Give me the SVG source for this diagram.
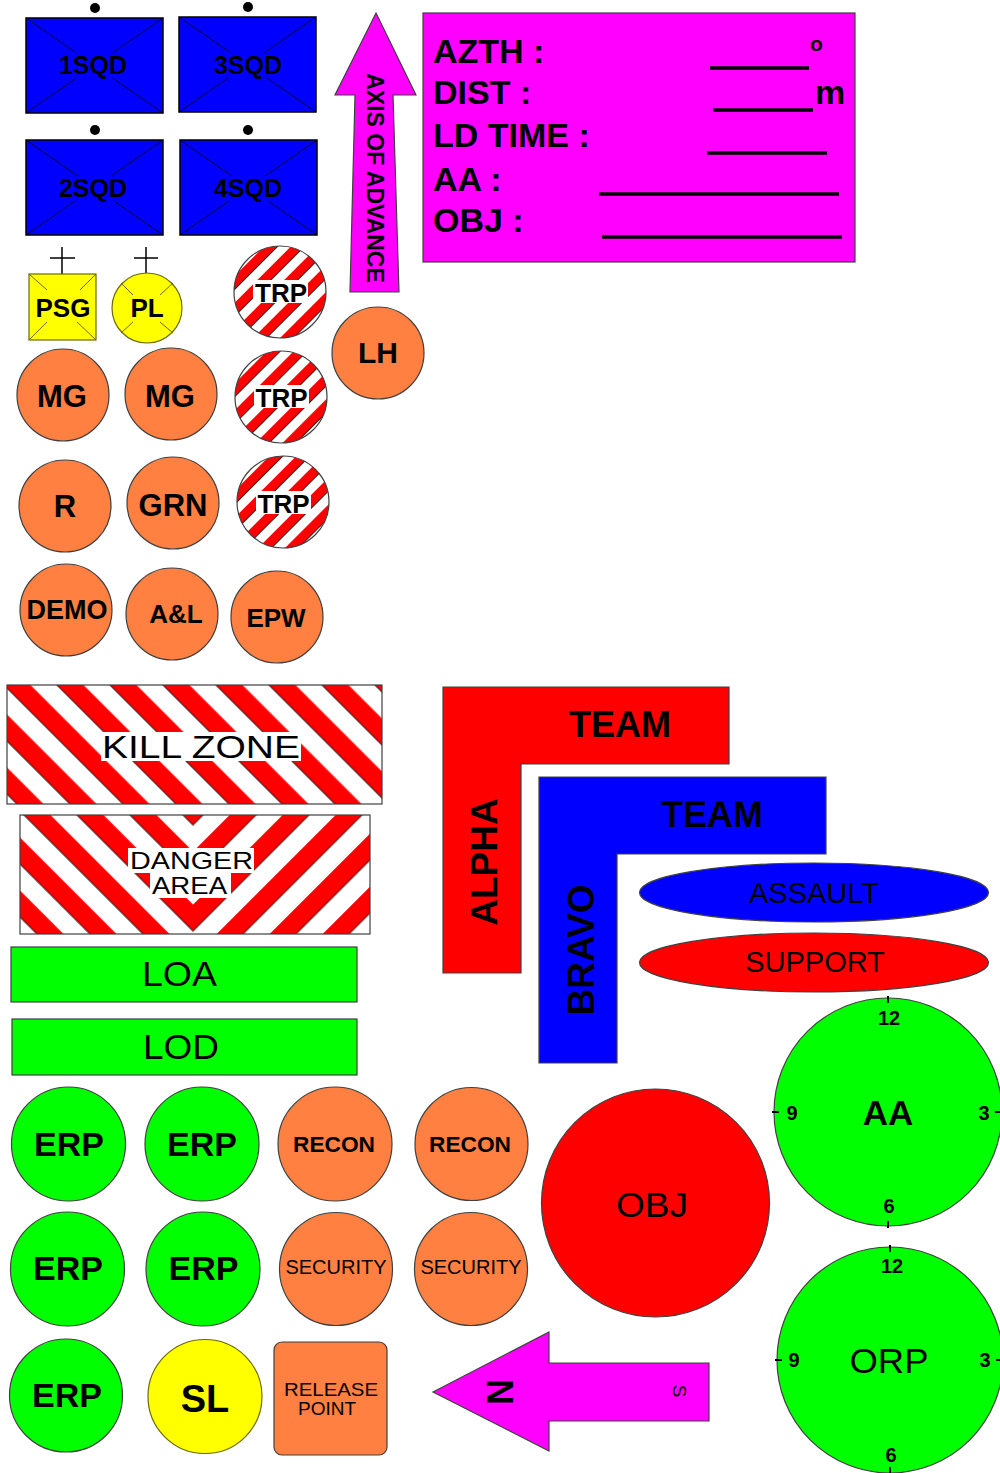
<svg xmlns="http://www.w3.org/2000/svg" width="1000" height="1473" viewBox="0 0 1000 1473">
<defs>
<style>
text { font-family: "Liberation Sans", Arial, Helvetica, sans-serif; fill: #000; }
.b { font-weight: bold; }
.c { text-anchor: middle; }
.sq { fill: #0000FF; stroke: #000; stroke-width: 1.5; }
.x { stroke: #000; stroke-width: 0.8; }
.dot { fill: #000; }
.or { fill: #FF8040; stroke: #404040; stroke-width: 1.2; }
.gr { fill: #00FF00; stroke: #404040; stroke-width: 1.2; }
.ye { fill: #FFFF00; stroke: #6b6b00; stroke-width: 1.2; }
.mg { fill: #FF00FF; stroke: #404040; stroke-width: 1.2; }
.rd { fill: #FF0000; stroke: #404040; stroke-width: 1.2; }
.bl { fill: #0000FF; stroke: #404040; stroke-width: 1.2; }
.ul { stroke: #000; stroke-width: 3.5; }
.tk { stroke: #000; stroke-width: 2; }
.cr { stroke: #000; stroke-width: 1.5; }
.yx { stroke: #6b6b00; stroke-width: 1; }
.wb { fill: #fff; }
.edge { stroke: #404040; stroke-width: 1.2; fill: none; }
.se { stroke: #000; stroke-width: 0.8; }
</style>
<pattern id="pKZ" patternUnits="userSpaceOnUse" width="37.48" height="400" patternTransform="rotate(-45)">
<rect width="37.48" height="400" fill="#fff"/>
<rect x="5.66" width="18.74" height="400" fill="#FF0000"/>
<line class="se" x1="5.66" y1="0" x2="5.66" y2="400"/>
</pattern>
<pattern id="pDL" patternUnits="userSpaceOnUse" width="37.48" height="400" patternTransform="rotate(-45)">
<rect width="37.48" height="400" fill="#fff"/>
<rect x="2.83" width="18.74" height="400" fill="#FF0000"/>
<line class="se" x1="2.83" y1="0" x2="2.83" y2="400"/>
</pattern>
<pattern id="pDR" patternUnits="userSpaceOnUse" x="26.52" width="37.48" height="400" patternTransform="rotate(45)">
<rect width="37.48" height="400" fill="#fff"/>
<rect x="0" width="18.74" height="400" fill="#FF0000"/>
<line class="se" x1="18.74" y1="0" x2="18.74" y2="400"/>
</pattern>
<pattern id="pTRP" patternUnits="userSpaceOnUse" width="19" height="300" patternTransform="rotate(45)">
<rect width="19" height="300" fill="#fff"/>
<rect x="0" width="9.5" height="300" fill="#FF0000"/>
<line class="se" x1="9.5" y1="0" x2="9.5" y2="300"/>
</pattern>
</defs>
<rect width="1000" height="1473" fill="#fff"/>

<g id="sqd1">
<circle class="dot" cx="95" cy="8" r="5"/>
<rect class="sq" x="26" y="18" width="137" height="95"/>
<line class="x" x1="26" y1="18" x2="76.5" y2="53"/><line class="x" x1="112.5" y1="78" x2="163" y2="113"/>
<line class="x" x1="163" y1="18" x2="112.5" y2="53"/><line class="x" x1="76.5" y1="78" x2="26" y2="113"/>
<text class="b c" x="93" y="74" font-size="25">1SQD</text>
</g>
<g id="sqd3">
<circle class="dot" cx="248" cy="7" r="5"/>
<rect class="sq" x="179" y="17" width="137" height="95"/>
<line class="x" x1="179" y1="17" x2="230.9" y2="53"/><line class="x" x1="267" y1="78" x2="316" y2="112"/>
<line class="x" x1="316" y1="17" x2="264.1" y2="53"/><line class="x" x1="228" y1="78" x2="179" y2="112"/>
<text class="b c" x="248" y="74" font-size="25">3SQD</text>
</g>
<g id="sqd2">
<circle class="dot" cx="95" cy="130" r="5"/>
<rect class="sq" x="26" y="140" width="137" height="95"/>
<line class="x" x1="26" y1="140" x2="77.9" y2="176"/><line class="x" x1="114" y1="201" x2="163" y2="235"/>
<line class="x" x1="163" y1="140" x2="111.1" y2="176"/><line class="x" x1="75" y1="201" x2="26" y2="235"/>
<text class="b c" x="93" y="197" font-size="25">2SQD</text>
</g>
<g id="sqd4">
<circle class="dot" cx="248" cy="130" r="5"/>
<rect class="sq" x="180" y="140" width="137" height="95"/>
<line class="x" x1="180" y1="140" x2="231.9" y2="176"/><line class="x" x1="268" y1="201" x2="317" y2="235"/>
<line class="x" x1="317" y1="140" x2="265.1" y2="176"/><line class="x" x1="229" y1="201" x2="180" y2="235"/>
<text class="b c" x="248" y="197" font-size="25">4SQD</text>
</g>

<g id="axis">
<polygon class="mg" points="376,13 416,95 393,95 399,292 350,292 355,95 335,95"/>
<text class="b c" font-size="23" transform="translate(367,178) rotate(90)">AXIS OF ADVANCE</text>
</g>

<g id="infobox">
<rect class="mg" x="423" y="13" width="432" height="249"/>
<text class="b" x="433" y="63" font-size="34">AZTH :</text>
<text class="b" x="433" y="104" font-size="34">DIST :</text>
<text class="b" x="433" y="147" font-size="34">LD TIME :</text>
<text class="b" x="433" y="191" font-size="34">AA :</text>
<text class="b" x="433" y="232" font-size="34">OBJ :</text>
<line class="ul" x1="710" y1="68" x2="809" y2="68"/>
<text class="b" x="810" y="51" font-size="21">o</text>
<line class="ul" x1="713" y1="110" x2="813" y2="110"/>
<text class="b" x="815" y="104" font-size="34">m</text>
<line class="ul" x1="707" y1="153" x2="827" y2="153"/>
<line class="ul" x1="599" y1="194" x2="839" y2="194"/>
<line class="ul" x1="602" y1="237" x2="842" y2="237"/>
</g>

<g id="psg">
<line class="cr" x1="62" y1="247" x2="62" y2="274"/><line class="cr" x1="50" y1="258" x2="75" y2="258"/>
<rect class="ye" x="29" y="274" width="67" height="66"/>
<line class="yx" x1="29" y1="274" x2="47" y2="290"/><line class="yx" x1="96" y1="274" x2="80" y2="290"/>
<line class="yx" x1="77" y1="322" x2="96" y2="340"/><line class="yx" x1="47" y1="322" x2="29" y2="340"/>
<text class="b c" x="63" y="317" font-size="26">PSG</text>
</g>
<g id="pl">
<line class="cr" x1="146" y1="247" x2="146" y2="274"/><line class="cr" x1="134" y1="258" x2="158" y2="258"/>
<circle class="ye" cx="147" cy="308" r="35"/>
<line class="yx" x1="121" y1="283" x2="133" y2="295"/><line class="yx" x1="160" y1="295" x2="173" y2="283"/>
<line class="yx" x1="121" y1="333" x2="133" y2="322"/><line class="yx" x1="160" y1="322" x2="173" y2="333"/>
<text class="b c" x="147" y="317" font-size="26">PL</text>
</g>

<g id="trp1">
<circle cx="280" cy="292" r="46" fill="url(#pTRP)" stroke="#404040" stroke-width="1.2"/>
<rect class="wb" x="253" y="280" width="55" height="23"/>
<text class="b c" x="281" y="302" font-size="26">TRP</text>
</g>
<g id="trp2">
<circle cx="281" cy="397" r="46" fill="url(#pTRP)" stroke="#404040" stroke-width="1.2"/>
<rect class="wb" x="254" y="385" width="55" height="23"/>
<text class="b c" x="281.5" y="407" font-size="26">TRP</text>
</g>
<g id="trp3">
<circle cx="283" cy="502" r="46" fill="url(#pTRP)" stroke="#404040" stroke-width="1.2"/>
<rect class="wb" x="256" y="491" width="55" height="23"/>
<text class="b c" x="283.5" y="513" font-size="26">TRP</text>
</g>

<g id="lh"><circle class="or" cx="378" cy="353" r="46"/><text class="b c" x="378" y="363" font-size="30">LH</text></g>
<g id="mg1"><circle class="or" cx="63" cy="395" r="46"/><text class="b c" x="62" y="407" font-size="31">MG</text></g>
<g id="mg2"><circle class="or" cx="171" cy="394" r="46"/><text class="b c" x="170" y="407" font-size="31">MG</text></g>
<g id="r"><circle class="or" cx="65" cy="506" r="46"/><text class="b c" x="65" y="517" font-size="31">R</text></g>
<g id="grn"><circle class="or" cx="173" cy="503" r="46"/><text class="b c" x="173" y="516" font-size="31">GRN</text></g>
<g id="demo"><circle class="or" cx="66" cy="610" r="46"/><text class="b c" x="67" y="619" font-size="27">DEMO</text></g>
<g id="al"><circle class="or" cx="172" cy="614" r="46"/><text class="b c" x="176" y="623" font-size="26">A&amp;L</text></g>
<g id="epw"><circle class="or" cx="277" cy="617" r="46"/><text class="b c" x="276" y="627" font-size="26">EPW</text></g>

<g id="killzone">
<rect x="7" y="685" width="375" height="119" fill="url(#pKZ)"/>
<rect class="edge" x="7" y="685" width="375" height="119"/>
<rect class="wb" x="101" y="732" width="200" height="29"/>
<text x="201" y="758" font-size="32" text-anchor="middle" textLength="198" lengthAdjust="spacingAndGlyphs">KILL ZONE</text>
</g>

<g id="danger">
<rect x="20" y="815" width="173" height="119" fill="url(#pDL)"/>
<rect x="193" y="815" width="177" height="119" fill="url(#pDR)"/>
<rect class="edge" x="20" y="815" width="350" height="119"/>
<rect class="wb" x="128" y="848" width="126" height="25"/>
<rect class="wb" x="150" y="873" width="81" height="25"/>
<text x="191.5" y="869" font-size="24.5" text-anchor="middle" textLength="123" lengthAdjust="spacingAndGlyphs">DANGER</text>
<text x="189.5" y="894" font-size="24.5" text-anchor="middle" textLength="75" lengthAdjust="spacingAndGlyphs">AREA</text>
</g>

<g id="loa"><rect class="gr" x="11" y="947" width="346" height="55"/><text x="179.5" y="986" font-size="35" text-anchor="middle" textLength="75" lengthAdjust="spacingAndGlyphs">LOA</text></g>
<g id="lod"><rect class="gr" x="12" y="1019" width="345" height="56"/><text x="181" y="1059" font-size="35" text-anchor="middle" textLength="76" lengthAdjust="spacingAndGlyphs">LOD</text></g>

<g id="alpha">
<polygon class="rd" points="443,687 729,687 729,764 521,764 521,973 443,973"/>
<text class="b c" x="620" y="737" font-size="36">TEAM</text>
<text class="b c" font-size="37" transform="translate(497,862) rotate(-90)">ALPHA</text>
</g>
<g id="bravo">
<polygon class="bl" points="539,777 826,777 826,854 617,854 617,1063 539,1063"/>
<text class="b c" x="712" y="827" font-size="36">TEAM</text>
<text class="b c" font-size="37" transform="translate(594,950) rotate(-90)">BRAVO</text>
</g>

<g id="assault"><ellipse class="bl" cx="814" cy="892.5" rx="174.5" ry="29.5"/><text class="c" x="814" y="903" font-size="29">ASSAULT</text></g>
<g id="support"><ellipse class="rd" cx="814" cy="962.5" rx="174.5" ry="29.5"/><text class="c" x="815" y="972" font-size="29">SUPPORT</text></g>

<g id="aa">
<circle class="gr" cx="888" cy="1112" r="114"/>
<line class="tk" x1="888" y1="996" x2="888" y2="1003"/>
<line class="tk" x1="888" y1="1221" x2="888" y2="1228"/>
<line class="tk" x1="772" y1="1112" x2="779" y2="1112"/>
<line class="tk" x1="995" y1="1112" x2="1002" y2="1112"/>
<text class="b c" x="889" y="1025" font-size="20">12</text>
<text class="b c" x="792" y="1120" font-size="20">9</text>
<text class="b c" x="984" y="1120" font-size="20">3</text>
<text class="b c" x="889" y="1213" font-size="20">6</text>
<text class="b c" x="888" y="1125" font-size="35">AA</text>
</g>
<g id="orp">
<circle class="gr" cx="890" cy="1360" r="113"/>
<line class="tk" x1="890" y1="1245" x2="890" y2="1252"/>
<line class="tk" x1="890" y1="1467" x2="890" y2="1474"/>
<line class="tk" x1="775" y1="1360" x2="782" y2="1360"/>
<line class="tk" x1="996" y1="1360" x2="1003" y2="1360"/>
<text class="b c" x="892" y="1273" font-size="20">12</text>
<text class="b c" x="794" y="1367" font-size="20">9</text>
<text class="b c" x="985" y="1367" font-size="20">3</text>
<text class="b c" x="891" y="1462" font-size="20">6</text>
<text class="c" x="889" y="1373" font-size="35" textLength="79" lengthAdjust="spacingAndGlyphs">ORP</text>
</g>

<g id="obj"><circle class="rd" cx="655.5" cy="1203" r="114"/><text class="c" x="652" y="1217" font-size="35" textLength="72" lengthAdjust="spacingAndGlyphs">OBJ</text></g>

<g id="erp1"><circle class="gr" cx="68.5" cy="1144" r="57"/><text class="b c" x="69" y="1156" font-size="34">ERP</text></g>
<g id="erp2"><circle class="gr" cx="202" cy="1144" r="57"/><text class="b c" x="202" y="1156" font-size="34">ERP</text></g>
<g id="recon1"><circle class="or" cx="335" cy="1144" r="57"/><text class="b c" x="334" y="1152" font-size="22" textLength="82" lengthAdjust="spacingAndGlyphs">RECON</text></g>
<g id="recon2"><circle class="or" cx="471.5" cy="1144" r="56.5"/><text class="b c" x="470" y="1152" font-size="22" textLength="82" lengthAdjust="spacingAndGlyphs">RECON</text></g>
<g id="erp3"><circle class="gr" cx="67.5" cy="1269" r="57"/><text class="b c" x="68" y="1280" font-size="34">ERP</text></g>
<g id="erp4"><circle class="gr" cx="203" cy="1269" r="57"/><text class="b c" x="203.5" y="1280" font-size="34">ERP</text></g>
<g id="sec1"><circle class="or" cx="336" cy="1269" r="56.5"/><text class="c" x="336" y="1274" font-size="20">SECURITY</text></g>
<g id="sec2"><circle class="or" cx="471" cy="1269" r="56.5"/><text class="c" x="471" y="1274" font-size="20">SECURITY</text></g>
<g id="erp5"><circle class="gr" cx="66" cy="1395.5" r="56.5"/><text class="b c" x="67" y="1407" font-size="34">ERP</text></g>
<g id="sl"><circle class="ye" cx="205" cy="1396.5" r="57"/><text class="b c" x="205" y="1412" font-size="38">SL</text></g>
<g id="release">
<rect class="or" x="274" y="1342" width="113" height="113" rx="8"/>
<text class="c" x="331" y="1396" font-size="18" textLength="94" lengthAdjust="spacingAndGlyphs">RELEASE</text>
<text class="c" x="327" y="1415" font-size="18" textLength="58" lengthAdjust="spacingAndGlyphs">POINT</text>
</g>

<g id="north">
<polygon class="mg" points="433,1392 549,1332 549,1363 709,1363 709,1421 549,1421 549,1451"/>
<text class="b c" font-size="36" transform="translate(487,1392) rotate(90)">N</text>
<text class="c" font-size="19" transform="translate(673,1391) rotate(90)">S</text>
</g>

<g id="connectors"></g>
</svg>
